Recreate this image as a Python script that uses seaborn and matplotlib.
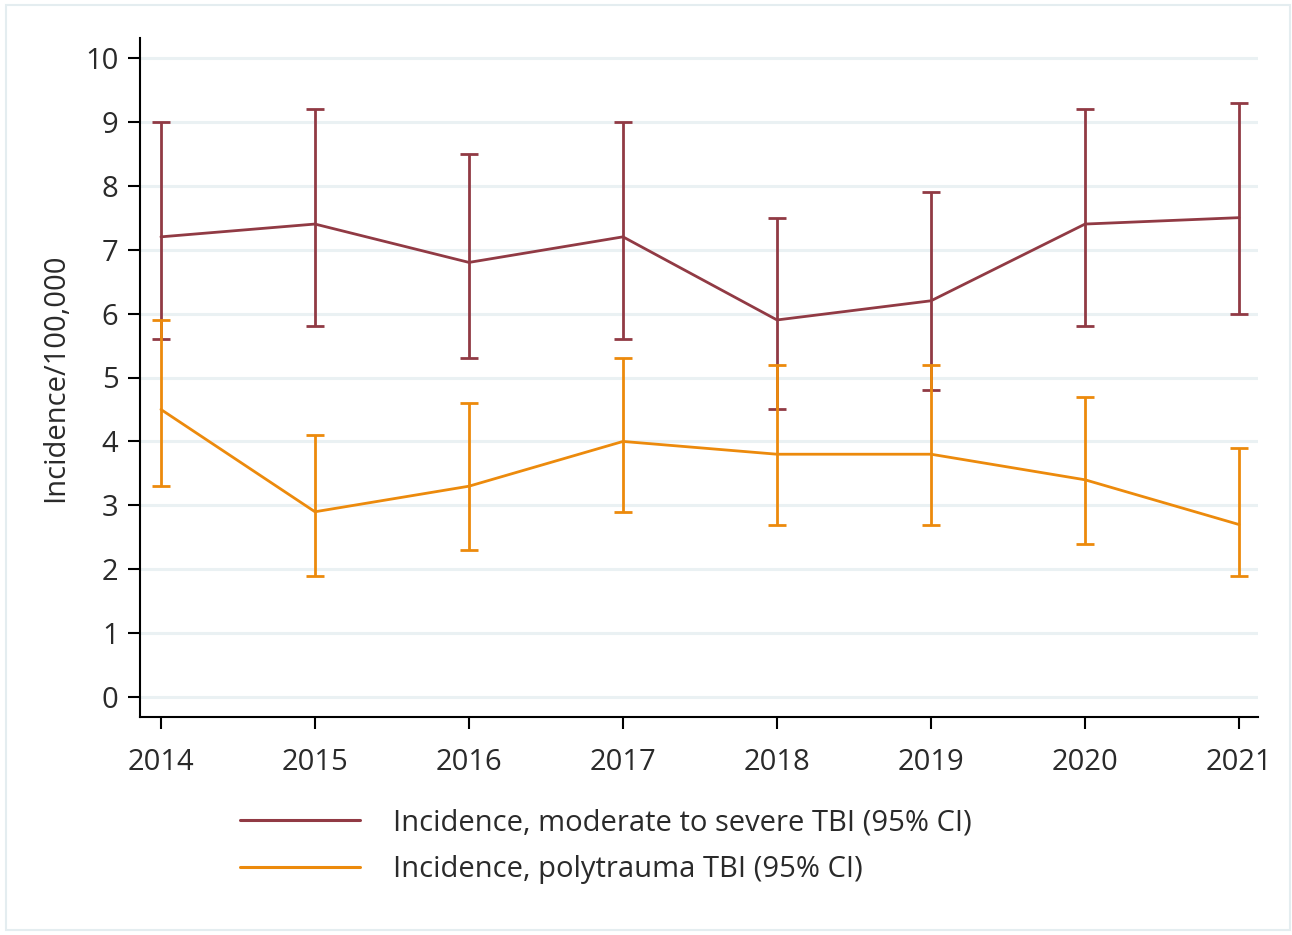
import numpy as np
import pandas as pd
import matplotlib.pyplot as plt
import seaborn as sns
from matplotlib.patches import Rectangle

years = [2014, 2015, 2016, 2017, 2018, 2019, 2020, 2021]

sev_inc = [7.2, 7.4, 6.8, 7.2, 5.9, 6.2, 7.4, 7.5]
sev_lo = [5.6, 5.8, 5.3, 5.6, 4.5, 4.8, 5.8, 6.0]
sev_hi = [9.0, 9.2, 8.5, 9.0, 7.5, 7.9, 9.2, 9.3]

poly_inc = [4.5, 2.9, 3.3, 4.0, 3.8, 3.8, 3.4, 2.7]
poly_lo = [3.3, 1.9, 2.3, 2.9, 2.7, 2.7, 2.4, 1.9]
poly_hi = [5.9, 4.1, 4.6, 5.3, 5.2, 5.2, 4.7, 3.9]

labels = ["Incidence, moderate to severe TBI (95% CI)",
          "Incidence, polytrauma TBI (95% CI)"]
red = "#913a44"
orange = "#ec8a0c"
txt = "#2a2a2a"

sns.set_theme(style="white")
plt.rcParams['font.family'] = ['Open Sans', 'DejaVu Sans']

fig = plt.figure(figsize=(12.92, 9.35), dpi=100)
ax = fig.add_axes([140/1292, 1-717/935, 1118/1292, 679/935])

df = pd.DataFrame({
    'year': years * 2,
    'inc': sev_inc + poly_inc,
    'series': [labels[0]] * len(years) + [labels[1]] * len(years),
})
sns.lineplot(data=df, x='year', y='inc', hue='series', palette=[red, orange],
             lw=2.0, ax=ax, legend=False, zorder=3)

for inc, lo, hi, c in [(sev_inc, sev_lo, sev_hi, red), (poly_inc, poly_lo, poly_hi, orange)]:
    inc = np.array(inc)
    err = [inc - np.array(lo), np.array(hi) - inc]
    ax.errorbar(years, inc, yerr=err, fmt='none', ecolor=c, elinewidth=2.0,
                capsize=6.2, capthick=2.0, zorder=3)

ax.set_xlim(2013.864, 2021.123)
ax.set_ylim(-0.31, 10.31)
ax.set_yticks(range(0, 11))
ax.set_xticks(years)
ax.yaxis.grid(True, color='#eaf1f3', lw=2.2)
ax.set_axisbelow(True)
for s in ['top', 'right']:
    ax.spines[s].set_visible(False)
for s in ['left', 'bottom']:
    ax.spines[s].set_color('black')
    ax.spines[s].set_linewidth(1.5)
ax.tick_params(axis='both', direction='out', length=8.5, width=1.5, color='black',
               labelsize=21, labelcolor=txt, left=True, bottom=True)
ax.tick_params(axis='y', pad=7)
ax.tick_params(axis='x', pad=14)
ax.set_xlabel('')
ax.set_ylabel('Incidence/100,000', fontsize=21, color=txt, labelpad=11)

handles = [plt.Line2D([], [], color=red, lw=2.2), plt.Line2D([], [], color=orange, lw=2.2)]
fig.legend(handles, labels, loc='upper left', bbox_to_anchor=(214/1292, 1-782/935),
           frameon=False, fontsize=21, handlelength=4.1, handletextpad=1.13,
           labelspacing=0.6, labelcolor=txt)

fig.patches.append(Rectangle((6/1292, 5/935), 1284/1292, 925/935, transform=fig.transFigure,
                             fill=False, edgecolor='#e4edf0', lw=1.5))

fig.savefig('out.png', dpi=100, facecolor='white')
